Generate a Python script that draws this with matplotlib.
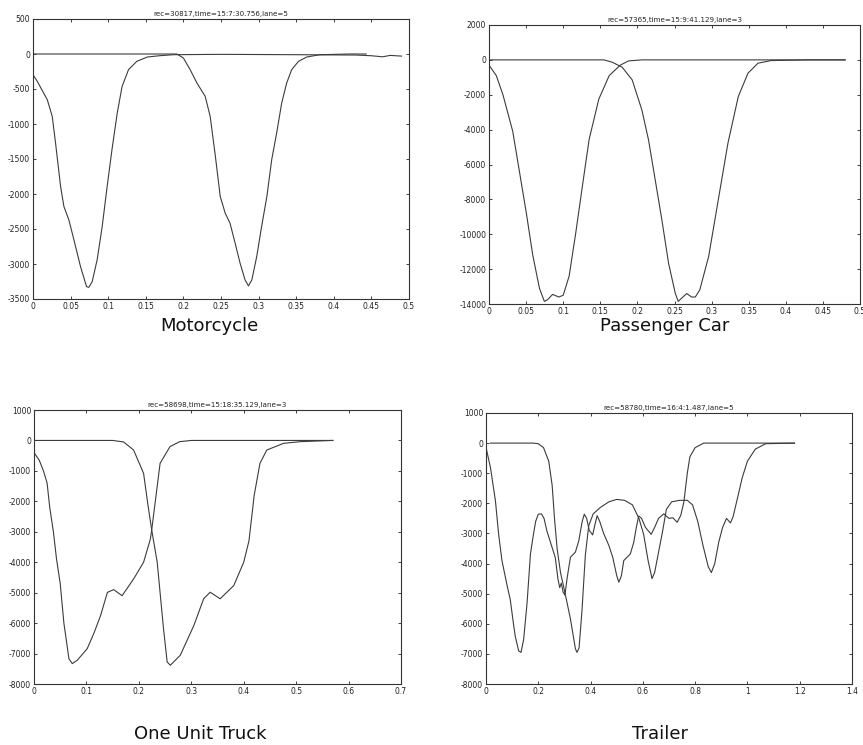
import matplotlib
matplotlib.use("Agg")
import matplotlib.pyplot as plt

# ---- Motorcycle ----
moto_x1 = [0, 0.0057, 0.019, 0.0256, 0.030, 0.0367, 0.0411, 0.0477, 0.0544, 0.0632, 0.0712, 0.0743,
           0.0787, 0.0853, 0.092, 0.0986, 0.105, 0.112, 0.1185, 0.127, 0.138, 0.152, 0.169, 0.187,
           0.25, 0.35, 0.43, 0.45, 0.465, 0.475, 0.49]
moto_y1 = [-296, -391, -653, -892, -1273, -1893, -2179, -2370, -2655, -3037, -3323, -3333,
           -3252, -2941, -2465, -1893, -1368, -844, -462, -224, -105, -43, -24, -10,
           -5, -10, -15, -25, -40, -20, -30]
moto_x2 = [0, 0.1, 0.1914, 0.2, 0.209, 0.218, 0.229, 0.2356, 0.242, 0.249, 0.2556, 0.262, 0.2688,
           0.2754, 0.282, 0.2865, 0.291, 0.2975, 0.304, 0.311, 0.3174, 0.324, 0.3307, 0.3373,
           0.344, 0.353, 0.364, 0.3815, 0.421, 0.443]
moto_y2 = [0, 0, 0, -57, -224, -415, -605, -892, -1416, -2036, -2274, -2417, -2703,
           -2989, -3228, -3313, -3228, -2894, -2465, -2036, -1511, -1130, -701, -415,
           -224, -105, -43, -10, 0, 0]

# ---- Passenger car ----
car_x1 = [0, 0.0098, 0.0188, 0.032, 0.041, 0.05, 0.059, 0.068, 0.0746, 0.079, 0.0857, 0.094,
          0.1, 0.108, 0.117, 0.126, 0.135, 0.148, 0.162, 0.177, 0.188, 0.206, 0.3, 0.4, 0.48]
car_y1 = [-300, -900, -2000, -4100, -6400, -8700, -11200, -13100, -13850, -13750, -13450, -13600,
          -13500, -12400, -9900, -7200, -4550, -2250, -900, -300, -60, 0, 0, 0, 0]
car_x2 = [0, 0.1, 0.155, 0.166, 0.1795, 0.193, 0.206, 0.215, 0.224, 0.233, 0.242, 0.251, 0.255,
          0.26, 0.2665, 0.273, 0.278, 0.284, 0.296, 0.309, 0.322, 0.336, 0.349, 0.3625, 0.38,
          0.43, 0.48]
car_y2 = [0, 0, 0, -134, -420, -1150, -2870, -4590, -6880, -9180, -11660, -13380, -13850,
          -13650, -13400, -13600, -13600, -13200, -11280, -8030, -4780, -2100, -765, -190, -40,
          0, 0]

# ---- One unit truck ----
truck_x1 = [0, 0.01, 0.018, 0.025, 0.03, 0.037, 0.043, 0.05, 0.057, 0.0666, 0.073, 0.0825, 0.1015,
            0.115, 0.127, 0.14, 0.152, 0.168, 0.19, 0.209, 0.222, 0.2245, 0.2405, 0.2595, 0.278,
            0.3, 0.45, 0.57]
truck_y1 = [-400, -650, -1000, -1400, -2200, -3000, -3900, -4700, -6000, -7170, -7330, -7220, -6840,
            -6300, -5750, -4990, -4900, -5100, -4550, -4000, -3240, -2940, -750, -200, -40,
            0, 0, 0]
truck_x2 = [0, 0.1, 0.15, 0.171, 0.19, 0.209, 0.218, 0.2245, 0.235, 0.247, 0.254, 0.26, 0.279,
            0.305, 0.3236, 0.336, 0.355, 0.381, 0.4, 0.41, 0.42, 0.431, 0.444, 0.476, 0.508, 0.57]
truck_y2 = [0, 0, 0, -50, -315, -1080, -2200, -2940, -4000, -6180, -7275, -7385, -7056,
            -6075, -5200, -4985, -5200, -4767, -4000, -3300, -1800, -750, -315, -95, -40, 0]

# ---- Trailer ----
trl_x1 = [0, 0.017, 0.036, 0.048, 0.061, 0.08, 0.093, 0.105, 0.112, 0.125, 0.134, 0.144, 0.157,
          0.17, 0.182, 0.19, 0.2, 0.212, 0.222, 0.233, 0.253, 0.265, 0.275, 0.282, 0.288, 0.295,
          0.302, 0.31, 0.323, 0.342, 0.355, 0.368, 0.376, 0.385, 0.395, 0.408, 0.417, 0.425,
          0.435, 0.45, 0.47, 0.485, 0.5, 0.508, 0.518, 0.527, 0.552, 0.565, 0.575, 0.584, 0.595,
          0.61, 0.632, 0.645, 0.66, 0.68, 0.70, 0.715, 0.731, 0.745, 0.757, 0.77, 0.78, 0.80,
          0.833, 0.9, 1.0, 1.1, 1.18]
trl_y1 = [-140, -810, -1910, -3000, -3900, -4700, -5210, -6000, -6420, -6900, -6950, -6520, -5320,
          -3680, -3000, -2600, -2360, -2350, -2500, -2920, -3470, -3800, -4500, -4800, -4650, -4950,
          -5050, -4500, -3790, -3620, -3240, -2600, -2360, -2500, -2900, -3050, -2700, -2410,
          -2600, -3000, -3400, -3800, -4400, -4620, -4400, -3900, -3680, -3300, -2800, -2420, -2500,
          -2800, -3030, -2800, -2500, -2350, -2500, -2480, -2630, -2400, -1950, -1000, -450, -150,
          0, 0, 0, 0, 0]
trl_x2 = [0.017, 0.138, 0.18, 0.2, 0.22, 0.24, 0.253, 0.262, 0.272, 0.285, 0.297, 0.31, 0.323,
          0.342, 0.348, 0.356, 0.367, 0.38, 0.393, 0.41, 0.437, 0.47, 0.50, 0.53, 0.56, 0.585,
          0.603, 0.62, 0.635, 0.645, 0.655, 0.675, 0.69, 0.71, 0.74, 0.77, 0.79, 0.81, 0.83, 0.85,
          0.862, 0.875, 0.89, 0.905, 0.92, 0.935, 0.945, 0.96, 0.98, 1.0, 1.03, 1.07, 1.18]
trl_y2 = [0, 0, 0, -20, -150, -600, -1400, -2500, -3500, -4300, -4770, -5300, -5840,
          -6830, -6950, -6800, -5580, -3720, -2740, -2350, -2140, -1950, -1870, -1900, -2050, -2500,
          -3030, -3900, -4500, -4300, -3850, -2950, -2200, -1950, -1900, -1900, -2050, -2600, -3400, -4100,
          -4300, -4000, -3300, -2800, -2500, -2650, -2450, -1900, -1150, -600, -200, -20, 0]

# axis ticks (MATLAB style labels)
moto_xt = [0, 0.05, 0.1, 0.15, 0.2, 0.25, 0.3, 0.35, 0.4, 0.45, 0.5]
moto_xl = ["0", "0.05", "0.1", "0.15", "0.2", "0.25", "0.3", "0.35", "0.4", "0.45", "0.5"]
moto_yt = [-3500, -3000, -2500, -2000, -1500, -1000, -500, 0, 500]
car_yt = [-14000, -12000, -10000, -8000, -6000, -4000, -2000, 0, 2000]
truck_xt = [0, 0.1, 0.2, 0.3, 0.4, 0.5, 0.6, 0.7]
truck_xl = ["0", "0.1", "0.2", "0.3", "0.4", "0.5", "0.6", "0.7"]
big_yt = [-8000, -7000, -6000, -5000, -4000, -3000, -2000, -1000, 0, 1000]
trl_xt = [0, 0.2, 0.4, 0.6, 0.8, 1.0, 1.2, 1.4]
trl_xl = ["0", "0.2", "0.4", "0.6", "0.8", "1", "1.2", "1.4"]

titles = ["rec=30817,time=15:7:30.756,lane=5", "rec=57365,time=15:9:41.129,lane=3",
          "rec=58698,time=15:18:35.129,lane=3", "rec=58780,time=16:4:1.487,lane=5"]
captions = ["Motorcycle", "Passenger Car", "One Unit Truck", "Trailer"]

W, H = 863, 745
fig = plt.figure(figsize=(W / 100, H / 100), dpi=100)
fig.patch.set_facecolor("white")

# axes boxes in pixels: left, top, right, bottom
boxes = [(33, 19, 409, 299), (489, 25, 860, 304), (34, 410, 401, 684), (486, 413, 852, 684)]
panels = [
    (moto_x1, moto_y1, moto_x2, moto_y2, moto_xt, moto_xl, moto_yt, (0, 0.5), (-3500, 500)),
    (car_x1, car_y1, car_x2, car_y2, moto_xt, moto_xl, car_yt, (0, 0.5), (-14000, 2000)),
    (truck_x1, truck_y1, truck_x2, truck_y2, truck_xt, truck_xl, big_yt, (0, 0.7), (-8000, 1000)),
    (trl_x1, trl_y1, trl_x2, trl_y2, trl_xt, trl_xl, big_yt, (0, 1.4), (-8000, 1000)),
]
cap_pos = [(209, 326), (665, 326), (200, 734), (660, 734)]

for i, p in enumerate(panels):
    x1, y1, x2, y2, xt, xl, yt, xlim, ylim = p
    l, t, r, b = boxes[i]
    ax = fig.add_axes([l / W, 1 - b / H, (r - l) / W, (b - t) / H])
    ax.plot(x1, y1, color="#3c3c3c", lw=0.8)
    ax.plot(x2, y2, color="#3c3c3c", lw=0.8)
    ax.set_xlim(*xlim)
    ax.set_ylim(*ylim)
    ax.set_xticks(xt)
    ax.set_xticklabels(xl)
    ax.set_yticks(yt)
    ax.set_yticklabels([str(v) for v in yt])
    ax.tick_params(direction="in", length=2.5, width=0.6, labelsize=5.5, pad=2,
                   top=True, right=True, colors="#222222")
    for s in ax.spines.values():
        s.set_linewidth(0.8)
        s.set_color("#333333")
    ax.set_title(titles[i], fontsize=5.1, pad=2.5, color="#222222")
    cx, cy = cap_pos[i]
    fig.text(cx / W, 1 - cy / H, captions[i], fontsize=13, ha="center", va="center",
             family="DejaVu Sans", color="#111111")

fig.savefig("out.png", dpi=100, facecolor="white")
